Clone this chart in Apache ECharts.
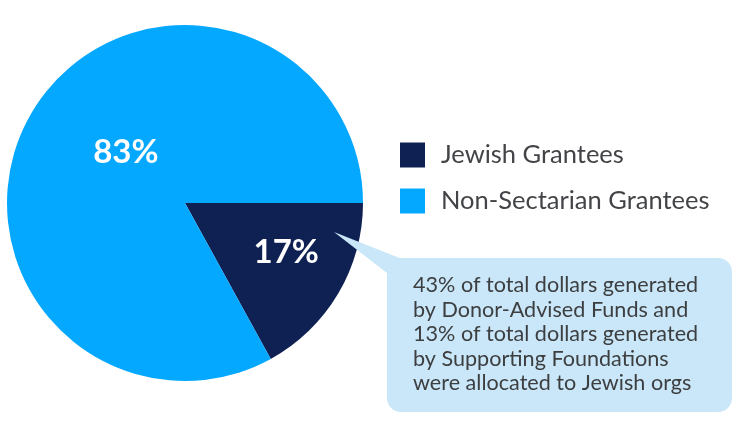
<!DOCTYPE html>
<html>
<head>
<meta charset="utf-8">
<script src="https://cdn.jsdelivr.net/npm/echarts@6/dist/echarts.min.js"></script>
<style>
html,body{margin:0;padding:0;background:#fff;}
#chart{width:740px;height:422px;}
</style>
</head>
<body>
<div id="chart"></div>
<script>
var categories = ['Jewish Grantees', 'Non-Sectarian Grantees'];
var values = [17, 83];
var colors = ['#0f2052', '#05a8ff'];
var calloutLines = [
  '43% of total dollars generated',
  'by Donor-Advised Funds and',
  '13% of total dollars generated',
  'by Supporting Foundations',
  'were allocated to Jewish orgs'
];

var FONT = 'Lato, "Open Sans", sans-serif';
var labelOffsets = [[22, 3], [20, -4]];

var chart = echarts.init(document.getElementById('chart'), null, {renderer: 'canvas'});
chart.setOption({
  backgroundColor: '#ffffff',
  animation: false,
  color: colors,
  legend: {
    orient: 'vertical',
    left: 400,
    top: 142,
    padding: 0,
    itemWidth: 25,
    itemHeight: 25,
    itemGap: 20,
    icon: 'rect',
    selectedMode: false,
    data: categories,
    textStyle: {
      fontFamily: FONT,
      fontSize: 25.5,
      lineHeight: 25,
      color: '#424447',
      padding: [0, 0, 0, 11]
    }
  },
  series: [
    {
      type: 'pie',
      center: [185, 203],
      radius: [0, 178],
      startAngle: 0,
      clockwise: true,
      z: 3,
      label: {
        show: true,
        position: 'inside',
        formatter: '{d}%',
        color: '#ffffff',
        fontFamily: FONT,
        fontWeight: 'bold',
        fontSize: 33
      },
      labelLine: { show: false },
      emphasis: { disabled: true },
      itemStyle: { borderWidth: 0 },
      data: categories.map(function (c, i) {
        return {
          name: c,
          value: values[i],
          label: { offset: labelOffsets[i] }
        };
      })
    }
  ],
  graphic: [
    {
      type: 'group',
      z: 100,
      children: [
        {
          type: 'polygon',
          z: 100,
          shape: { points: [[334, 232], [402, 259], [387, 273]] },
          style: { fill: '#c9e7f8' }
        },
        {
          type: 'rect',
          z: 100,
          shape: { x: 387, y: 258, width: 345, height: 154, r: 14 },
          style: { fill: '#c9e7f8' }
        },
        {
          type: 'text',
          z: 101,
          left: 413,
          top: 273,
          style: {
            text: calloutLines.join('\n'),
            font: '21.6px ' + FONT,
            lineHeight: 24.5,
            fill: '#3d3e40'
          }
        }
      ]
    }
  ]
});
</script>
</body>
</html>
